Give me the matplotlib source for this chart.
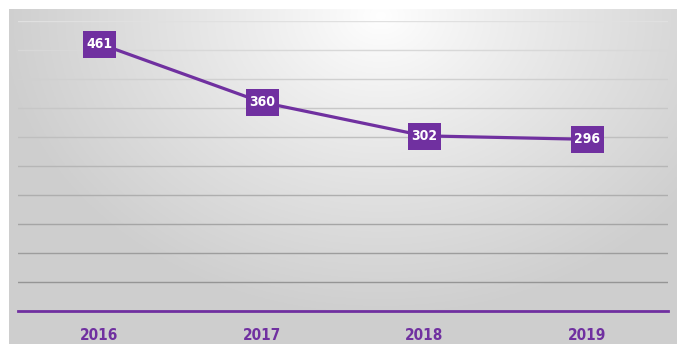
import numpy as np
import matplotlib
matplotlib.use("Agg")
import matplotlib.pyplot as plt
from matplotlib.path import Path

years = ["2016", "2017", "2018", "2019"]
values = [461, 360, 302, 296]
y_ticks = list(range(0, 501, 50))

PURPLE = "#7030a0"
W, H = 677, 344
fig = plt.figure(figsize=(W / 100, H / 100), dpi=100)
fig.patch.set_facecolor("white")

# background gradient panel
bg = fig.add_axes([9 / W, 0, 1 - 9 / W, 1 - 9 / H])
bg.set_axis_off()
ny, nx = 200, 400
yy, xx = np.mgrid[0:ny, 0:nx]
X = xx / nx * (W - 9) + 9
Y = yy / ny * (H - 9) + 9
cx, cy = 380, 15
d = np.sqrt(((X - cx) / 380) ** 2 + ((Y - cy) / 300) ** 2)
d = np.clip(d, 0, 1)
lev = 1.0 - 0.19 * d ** 0.9
img = np.dstack([lev, lev, lev])
bg.imshow(img, aspect="auto", extent=[0, 1, 0, 1], origin="upper")

ax = fig.add_axes([18 / W, 1 - 311 / H, 650 / W, 290 / H])
ax.patch.set_alpha(0)
ax.set_xlim(-0.5, 3.5)
ax.set_ylim(0, 500)
for s in ["top", "right", "left"]:
    ax.spines[s].set_visible(False)
ax.spines["bottom"].set_color(PURPLE)
ax.spines["bottom"].set_linewidth(2)
ax.spines["bottom"].set_zorder(5)
ax.set_yticks([])
for t in y_ticks[1:]:
    f = t / 500
    c = 0.55 + 0.33 * f
    ax.axhline(t, color=(c, c, c), lw=1.0, zorder=1)

# rectangular box marker (about 33 x 27 px)
bw, bh = 1.0, 27 / 33
box = Path([(-bw, -bh), (bw, -bh), (bw, bh), (-bw, bh), (-bw, -bh)],
           [Path.MOVETO, Path.LINETO, Path.LINETO, Path.LINETO, Path.CLOSEPOLY])

x = np.arange(len(years))
ax.plot(x, values, color=PURPLE, lw=2.3, zorder=3)
ax.plot(x, values, ls="none", marker=box, markersize=33 * 0.72, color=PURPLE,
        markeredgewidth=0, zorder=4)
for xi, v in zip(x, values):
    ax.text(xi, v, str(v), ha="center", va="center", color="white",
            fontsize=10, fontweight="bold", family="DejaVu Sans",
            fontstretch="condensed", zorder=5)

ax.set_xticks(x)
ax.set_xticklabels(years, color=PURPLE, fontsize=11, fontweight="bold",
                   family="DejaVu Sans", fontstretch="condensed")
ax.tick_params(axis="x", length=0, pad=12)

fig.savefig("out.png", dpi=100)
